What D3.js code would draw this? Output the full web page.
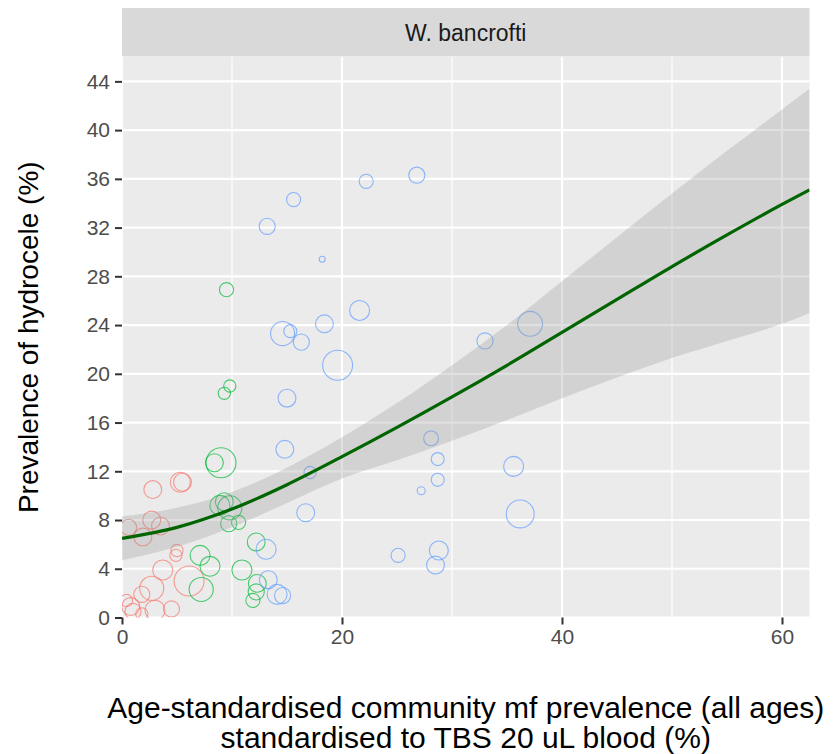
<!DOCTYPE html>
<html>
<head>
<meta charset="utf-8">
<script src="https://cdn.jsdelivr.net/npm/d3@7"></script>
<style>
  body { margin: 0; background: #fff; }
  svg text { font-family: "Liberation Sans", Arial, sans-serif; }
</style>
</head>
<body>
<div id="container"></div>
<script>
// community level data: mf prevalence (x), hydrocele prevalence (y), sample size, group
const mfPrev = [
  2.8, 5.3, 5.5, 0.6, 2.7, 3.5, 1.9, 5.0, 4.9, 3.7, 2.7, 1.8, 0.8, 1.0, 3.0, 4.5, 6.1, 1.8, 0.4,
  9.5, 9.8, 9.3, 9.0, 8.4, 8.9, 9.8, 9.3, 9.7, 10.6, 12.2, 7.1, 8.0, 10.9, 12.3, 12.2, 11.9, 7.2,
  15.6, 22.2, 26.8, 18.2, 13.2, 14.6, 15.3, 16.3, 18.4, 21.6, 19.6, 15.0, 37.1, 33.0, 28.1, 28.7,
  28.7, 27.2, 35.6, 36.2, 25.1, 28.8, 28.5, 14.8, 17.1, 16.7, 13.1, 13.3, 14.1, 14.6
];
const hydPrev = [
  10.5, 11.1, 11.1, 7.4, 8.0, 7.5, 6.6, 5.5, 5.1, 3.9, 2.4, 1.9, 0.9, 0.5, 0.6, 0.7, 3.0, 0.3, 1.4,
  26.9, 19.0, 18.4, 12.7, 12.7, 9.2, 9.0, 9.5, 7.7, 7.8, 6.2, 5.1, 4.2, 3.9, 2.8, 2.1, 1.4, 2.3,
  34.3, 35.8, 36.3, 29.4, 32.1, 23.3, 23.5, 22.6, 24.1, 25.2, 20.7, 18.0, 24.1, 22.7, 14.7, 13.0,
  11.3, 10.4, 12.4, 8.5, 5.1, 5.5, 4.3, 13.8, 11.9, 8.6, 5.6, 3.1, 1.9, 1.8
];
const sampleN = [
  320, 400, 320, 260, 320, 320, 320, 150, 150, 400, 580, 260, 320, 260, 400, 260, 900, 150, 150,
  200, 150, 150, 900, 320, 400, 580, 320, 260, 200, 320, 400, 400, 400, 320, 260, 200, 580,
  200, 200, 260, 36, 260, 580, 170, 260, 320, 400, 900, 320, 620, 260, 220, 170,
  170, 64, 400, 780, 200, 360, 320, 320, 150, 320, 400, 320, 400, 260
];
const group = [
  1, 1, 1, 1, 1, 1, 1, 1, 1, 1, 1, 1, 1, 1, 1, 1, 1, 1, 1,
  2, 2, 2, 2, 2, 2, 2, 2, 2, 2, 2, 2, 2, 2, 2, 2, 2, 2,
  3, 3, 3, 3, 3, 3, 3, 3, 3, 3, 3, 3, 3, 3, 3, 3,
  3, 3, 3, 3, 3, 3, 3, 3, 3, 3, 3, 3, 3, 3
];

// fitted smooth with 95% band
const fitX  = [0, 5, 10, 15, 20, 25, 30, 35, 40, 45, 50, 55, 60, 62.5];
const fitY  = [6.5, 7.4, 8.9, 10.9, 13.2, 15.6, 18.1, 20.7, 23.4, 26.1, 28.8, 31.4, 33.9, 35.1];
const fitLo = [4.7, 5.8, 7.4, 9.4, 11.4, 12.9, 14.5, 16.2, 18.0, 19.7, 21.3, 22.7, 24.1, 25.0];
const fitHi = [8.3, 9.0, 10.3, 12.3, 14.8, 17.6, 20.7, 24.0, 27.6, 31.2, 34.8, 38.3, 41.7, 43.4];

const xTicks = [0, 20, 40, 60];
const xMinor = [10, 30, 50];
const yTicks = d3.range(0, 45, 4);

const w = 833, h = 754;
const pLeft = 122, pRight = 809.5, pTop = 57, pBottom = 617.5;

const svg = d3.select("#container").append("svg")
  .attr("width", w).attr("height", h);

const xScale = d3.scaleLinear().domain([0, 62.5]).range([pLeft, pRight]);
const yScale = d3.scaleLinear().domain([0, 46]).range([pBottom, pTop]);
const rScale = d3.scaleSqrt().domain([0, 1000]).range([0, 15.8]);
const color = d3.scaleOrdinal().domain([1, 2, 3]).range(["#F8766D", "#00BA38", "#619CFF"]);

// strip
svg.append("rect")
  .attr("x", pLeft).attr("y", 8)
  .attr("width", pRight - pLeft).attr("height", pTop - 8.5)
  .attr("fill", "#D9D9D9");
svg.append("text")
  .attr("x", (pLeft + pRight) / 2).attr("y", 41)
  .attr("text-anchor", "middle")
  .attr("font-size", 23).attr("fill", "#1A1A1A")
  .text("W. bancrofti");

// panel
svg.append("rect")
  .attr("x", pLeft).attr("y", pTop)
  .attr("width", pRight - pLeft).attr("height", pBottom - pTop)
  .attr("fill", "#EBEBEB");

svg.append("defs").append("clipPath").attr("id", "clip")
  .append("rect")
  .attr("x", pLeft).attr("y", pTop)
  .attr("width", pRight - pLeft).attr("height", pBottom - pTop);

const grid = svg.append("g");
grid.selectAll(".xminor").data(xMinor).enter().append("line")
  .attr("x1", d => xScale(d)).attr("x2", d => xScale(d))
  .attr("y1", pTop).attr("y2", pBottom)
  .attr("stroke", "#fff").attr("stroke-width", 1.2);
grid.selectAll(".xmajor").data(xTicks).enter().append("line")
  .attr("x1", d => xScale(d)).attr("x2", d => xScale(d))
  .attr("y1", pTop).attr("y2", pBottom)
  .attr("stroke", "#fff").attr("stroke-width", 2.2);
grid.selectAll(".ymajor").data(yTicks).enter().append("line")
  .attr("x1", pLeft).attr("x2", pRight)
  .attr("y1", d => yScale(d)).attr("y2", d => yScale(d))
  .attr("stroke", "#fff").attr("stroke-width", 2.2);

const plot = svg.append("g").attr("clip-path", "url(#clip)");

const data = mfPrev.map((d, i) => ({ x: d, y: hydPrev[i], n: sampleN[i], g: group[i] }));

plot.selectAll("circle")
  .data(data)
  .enter()
  .append("circle")
  .attr("cx", d => xScale(d.x))
  .attr("cy", d => yScale(d.y))
  .attr("r", d => rScale(d.n))
  .attr("fill", "none")
  .attr("stroke", d => color(d.g))
  .attr("stroke-opacity", 0.7)
  .attr("stroke-width", 1.1);

const fit = fitX.map((d, i) => ({ x: d, y: fitY[i], lo: fitLo[i], hi: fitHi[i] }));

plot.append("path")
  .datum(fit)
  .attr("d", d3.area().curve(d3.curveMonotoneX)
    .x(d => xScale(d.x)).y0(d => yScale(d.lo)).y1(d => yScale(d.hi)))
  .attr("fill", "#999999").attr("fill-opacity", 0.3);

plot.append("path")
  .datum(fit)
  .attr("d", d3.line().curve(d3.curveMonotoneX)
    .x(d => xScale(d.x)).y(d => yScale(d.y)))
  .attr("fill", "none").attr("stroke", "#006400").attr("stroke-width", 3.2);

// axes
const xAxis = d3.axisBottom(xScale).tickValues(xTicks).tickSize(7).tickPadding(5);
const yAxis = d3.axisLeft(yScale).tickValues(yTicks).tickSize(7).tickPadding(5);

const gx = svg.append("g").attr("transform", "translate(0," + pBottom + ")").call(xAxis);
const gy = svg.append("g").attr("transform", "translate(" + pLeft + ",0)").call(yAxis);
[gx, gy].forEach(g => {
  g.select(".domain").remove();
  g.selectAll(".tick line").attr("stroke", "#333333").attr("stroke-width", 2);
  g.selectAll(".tick text").attr("fill", "#4D4D4D").attr("font-size", 21)
    .style("font-family", "'Liberation Sans', Arial, sans-serif");
});

// titles
svg.append("text")
  .attr("transform", "translate(38," + ((pTop + pBottom) / 2) + ") rotate(-90)")
  .attr("text-anchor", "middle")
  .attr("font-size", 28).attr("fill", "#000")
  .text("Prevalence of hydrocele (%)");

const xt = svg.append("text")
  .attr("text-anchor", "middle")
  .attr("font-size", 30).attr("fill", "#000");
xt.append("tspan").attr("x", (pLeft + pRight) / 2).attr("y", 718)
  .text("Age-standardised community mf prevalence (all ages)");
xt.append("tspan").attr("x", (pLeft + pRight) / 2).attr("y", 748)
  .text("standardised to TBS 20 uL blood (%)");
</script>
</body>
</html>
